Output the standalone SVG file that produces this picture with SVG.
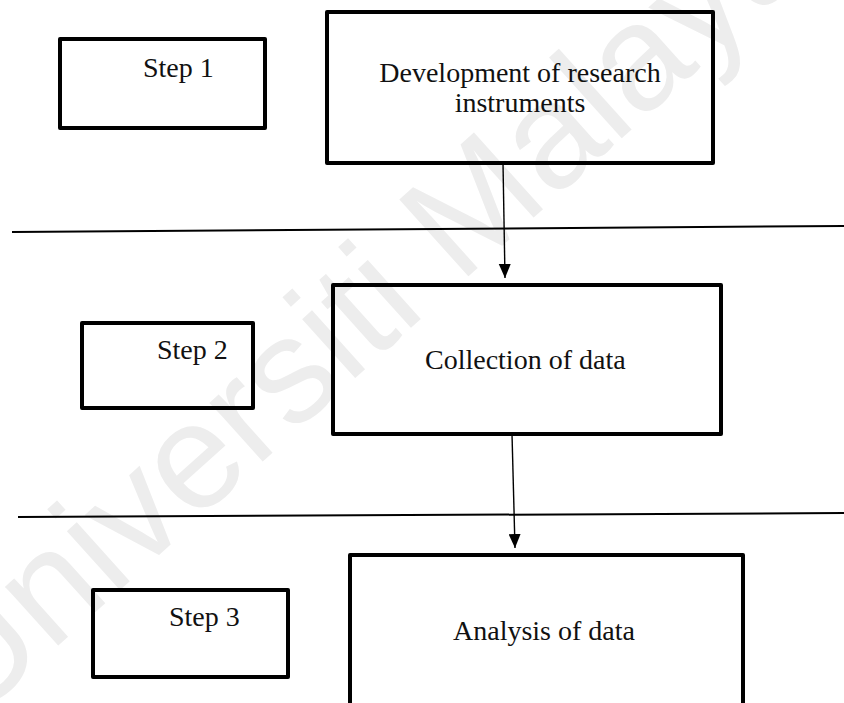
<svg xmlns="http://www.w3.org/2000/svg" width="844" height="703" viewBox="0 0 844 703">
  <style>
    .box { fill: none; stroke: #000; stroke-width: 4; stroke-linejoin: round; }
    .lbl { font-family: "Liberation Serif", "Times New Roman", serif; font-size: 28px; fill: #111; }
    .sep { stroke: #000; stroke-width: 2; fill: none; }
    .arr { stroke: #000; stroke-width: 1.4; fill: none; }
    .wm { font-family: "Liberation Sans", Arial, sans-serif; font-size: 150px; fill: #ededed; }
  </style>
  <defs>
    <marker id="head" markerUnits="userSpaceOnUse" markerWidth="14" markerHeight="16" refX="14" refY="7" orient="auto">
      <path d="M0,1 L14,7 L0,13 Z" fill="#000"/>
    </marker>
  </defs>
  <rect width="844" height="703" fill="#fff"/>
  <text class="wm" transform="translate(-30,725) rotate(-42)">Universiti Malaya</text>

  <g id="separators">
    <line class="sep" x1="12" y1="232" x2="844" y2="226"/>
    <line class="sep" x1="18" y1="517" x2="844" y2="513"/>
  </g>

  <g id="step1">
    <rect class="box" x="60" y="39" width="205" height="89"/>
    <text class="lbl" x="143" y="77">Step 1</text>
  </g>
  <g id="development">
    <rect class="box" x="327" y="12" width="386" height="151"/>
    <text class="lbl" x="520" y="82" text-anchor="middle">Development of research</text>
    <text class="lbl" x="520" y="112" text-anchor="middle">instruments</text>
  </g>
  <g id="step2">
    <rect class="box" x="82" y="323" width="171" height="85"/>
    <text class="lbl" x="157" y="359">Step 2</text>
  </g>
  <g id="collection">
    <rect class="box" x="333" y="285" width="388" height="149"/>
    <text class="lbl" x="425" y="369">Collection of data</text>
  </g>
  <g id="step3">
    <rect class="box" x="93" y="590" width="195" height="87"/>
    <text class="lbl" x="169" y="626">Step 3</text>
  </g>
  <g id="analysis">
    <rect class="box" x="350" y="555" width="393" height="170"/>
    <text class="lbl" x="453" y="640">Analysis of data</text>
  </g>

  <g id="connectors">
    <line class="arr" x1="503" y1="163" x2="505" y2="278" marker-end="url(#head)"/>
    <line class="arr" x1="512" y1="434" x2="515" y2="548" marker-end="url(#head)"/>
  </g>
</svg>
